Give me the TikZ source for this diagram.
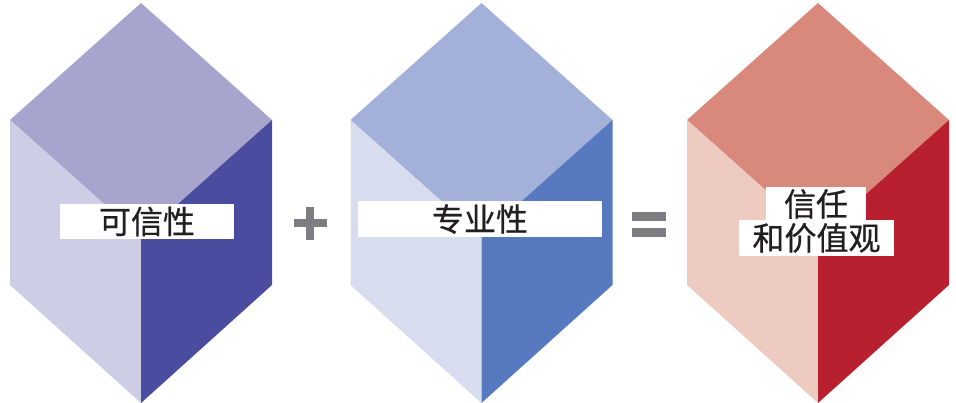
\documentclass[tikz,border=0pt]{standalone}
\usepackage{fontspec}
\newfontfamily\cjk[FakeBold=0.6]{Noto Sans CJK SC}
\definecolor{aTop}{HTML}{A7A4CD}
\definecolor{aLeft}{HTML}{CDCEE6}
\definecolor{aRight}{HTML}{4A4C9F}
\definecolor{bTop}{HTML}{A3B0DA}
\definecolor{bLeft}{HTML}{D7DCEE}
\definecolor{bRight}{HTML}{5679BF}
\definecolor{cTop}{HTML}{D8897C}
\definecolor{cLeft}{HTML}{EECBC0}
\definecolor{cRight}{HTML}{B8202F}
\definecolor{opgray}{HTML}{7F7D82}
\definecolor{txt}{HTML}{231F20}
\begin{document}
\begin{tikzpicture}[x=1pt,y=-1pt,
  lbl/.style={fill=white,inner sep=0pt,text=txt,font=\cjk\fontsize{32}{33}\selectfont},
  op/.style={fill=opgray}]
\useasboundingbox (0,0) rectangle (956,403);
\newcommand{\mycube}[5]{%
  \fill[#3] (#1,3) -- (#1+#2,120) -- (#1,237) -- (#1-#2,120) -- cycle;
  \fill[#4] (#1-#2,120) -- (#1,237) -- (#1,403) -- (#1-#2,285) -- cycle;
  \fill[#5] (#1+#2,120) -- (#1,237) -- (#1,403) -- (#1+#2,285) -- cycle;
}
\mycube{141}{131}{aTop}{aLeft}{aRight}{}
\mycube{481.5}{131}{bTop}{bLeft}{bRight}{}
\mycube{818}{131}{cTop}{cLeft}{cRight}{}
% labels
\node[lbl,minimum width=174pt,minimum height=35pt] (l1) at (147,221.5) {可信性};
\node[lbl,minimum width=244pt,minimum height=35.5pt] (l2) at (480,219) {专业性};
\node[lbl,minimum width=100pt,minimum height=33pt] (l3a) at (816,204) {信任};
\node[lbl,minimum width=155pt,minimum height=35.5pt] (l3b) at (816.5,238) {和价值观};
% plus
\fill[op] (293.5,219) rectangle (326.5,227);
\fill[op] (306,207) rectangle (314,240);
% equals
\fill[op] (632,211.7) rectangle (666,220.7);
\fill[op] (632,227.7) rectangle (666,236.7);
\end{tikzpicture}
\end{document}
